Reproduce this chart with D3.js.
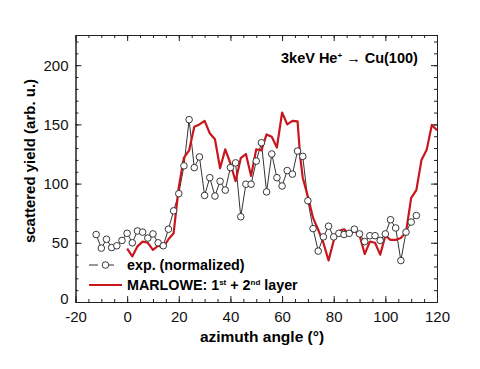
<!DOCTYPE html>
<html>
<head>
<meta charset="utf-8">
<script src="https://cdn.jsdelivr.net/npm/d3@7"></script>
<style>
  body { margin: 0; background: #fff; }
  text { font-family: "Liberation Sans", Arial, sans-serif; }
</style>
</head>
<body>
<div id="container"></div>
<script>
/* data */
var expAngle = [-12, -10, -8, -6, -4, -2, 0, 2, 4, 6, 8, 10, 12, 14, 16, 18, 20, 22, 24, 26,
                28, 30, 32, 34, 36, 38, 40, 42, 44, 46, 48, 50, 52, 54, 56, 58, 60, 62, 64, 66,
                68, 70, 72, 74, 76, 78, 80, 82, 84, 86, 88, 90, 92, 94, 96, 98, 100, 102, 104, 106,
                108, 110, 112]
var expYield = [57, 45.5, 53, 46, 47.5, 52, 58, 50, 60, 59, 54, 57.5, 50, 47.5, 61.5, 77, 91.5, 115, 154, 113.5,
                122.5, 90, 105, 89.5, 102, 94.5, 113.5, 117.5, 72, 99.5, 99.5, 119, 134.5, 93, 125, 105, 98, 111, 108, 127.5,
                123, 85.5, 62, 43, 55, 64, 55, 58, 57, 58, 61.5, 57.5, 51, 56, 56, 52, 57.5, 69.5, 62.5, 35,
                59, 67.5, 73]

var simAngle = [0, 2, 4, 6, 8, 10, 12, 14, 16, 18, 19, 20, 22, 24, 26, 28, 30, 32, 34, 36,
                38, 40, 42, 44, 46, 48, 50, 52, 54, 56, 58, 60, 62, 64, 66, 67, 68, 70, 72, 74,
                76, 78, 80, 82, 84, 86, 88, 90, 92, 94, 96, 98, 100, 102, 104, 106, 108, 110, 112, 114,
                116, 118, 120]
var simYield = [45, 38.5, 47, 51, 50, 44, 47.5, 46, 53, 58, 78, 97, 122, 128, 148, 150, 153, 142.5, 137.5, 113,
                129, 117, 102, 121.5, 125, 106.5, 129, 128, 141.5, 139.5, 130.5, 160, 150, 153, 152.5, 123, 105, 89, 71, 61,
                50, 35, 52, 60, 61.5, 57, 60, 56.5, 40.5, 51, 50, 40, 56, 52.5, 52.5, 54, 59, 88, 94.5, 120,
                128.5, 149.5, 145]

var xMajor = [-20, 0, 20, 40, 60, 80, 100, 120]
var yMajor = [0, 50, 100, 150, 200]

/* setup the dimensions */
var margin = { top: 35, right: 43, bottom: 67, left: 75.5 },
    width = 480 - margin.left - margin.right,
    height = 369 - margin.top - margin.bottom

var x = d3.scaleLinear().domain([-20, 120]).range([0, width])
var y = d3.scaleLinear().domain([0, 225.5]).range([height, 0])

var svg = d3.select("#container")
            .append("svg")
            .attr("width", 480)
            .attr("height", 369)

var g = svg.append("g")
           .attr("transform", "translate(" + margin.left + "," + margin.top + ")")

/* axes, ticks pointing inward on all four sides */
function minorTicks(axis, vals) {
  return axis.tickValues(vals).tickSize(-3).tickSizeOuter(0).tickFormat("")
}
var xMinor = d3.range(-20, 121, 5), yMinor = d3.range(0, 221, 10)
var plain = function(d) { return String(d) }  // keep the ascii hyphen in "-20"

g.append("g").attr("transform", "translate(0," + height + ")")
  .call(minorTicks(d3.axisBottom(x), xMinor))
g.append("g")
  .call(minorTicks(d3.axisTop(x), xMinor))
g.append("g")
  .call(minorTicks(d3.axisLeft(y), yMinor))
g.append("g").attr("transform", "translate(" + width + ",0)")
  .call(minorTicks(d3.axisRight(y), yMinor))

g.append("g").attr("class", "axis").attr("transform", "translate(0," + height + ")")
  .call(d3.axisBottom(x).tickValues(xMajor).tickSize(-6).tickSizeOuter(0).tickPadding(9).tickFormat(plain))
g.append("g").attr("class", "axis")
  .call(d3.axisTop(x).tickValues(xMajor).tickSize(-6).tickSizeOuter(0).tickFormat(""))
var yAxis = g.append("g").attr("class", "axis")
  .call(d3.axisLeft(y).tickValues(yMajor).tickSize(-6).tickSizeOuter(0).tickPadding(7).tickFormat(plain))
g.append("g").attr("class", "axis").attr("transform", "translate(" + width + ",0)")
  .call(d3.axisRight(y).tickValues(yMajor).tickSize(-6).tickSizeOuter(0).tickFormat(""))

g.selectAll(".axis text")
  .style("font-size", "15px")
  .style("fill", "#111")
// the "0" on the y axis sits a little above the corner
yAxis.selectAll(".tick text").filter(function(d) { return d === 0 }).attr("y", -3)
g.selectAll(".domain, .tick line").attr("stroke", "#222")

/* series */
var exp = expAngle.map(function(a, i) { return [a, expYield[i]] })
var sim = simAngle.map(function(a, i) { return [a, simYield[i]] })

var line = d3.line()
             .x(function(d) { return x(d[0]) })
             .y(function(d) { return y(d[1]) })

g.append("path")
  .datum(exp)
  .attr("d", line)
  .attr("fill", "none")
  .attr("stroke", "#333")
  .attr("stroke-width", 1)

g.append("path")
  .datum(sim)
  .attr("d", line)
  .attr("fill", "none")
  .attr("stroke", "#c8161e")
  .attr("stroke-width", 2.2)
  .attr("stroke-linejoin", "round")

g.selectAll(".pt")
  .data(exp)
  .enter().append("circle")
    .attr("class", "pt")
    .attr("cx", function(d) { return x(d[0]) })
    .attr("cy", function(d) { return y(d[1]) })
    .attr("r", 3.3)
    .attr("fill", "#fff")
    .attr("stroke", "#222")
    .attr("stroke-width", 0.9)

/* axis titles */
svg.append("text")
  .attr("x", 262).attr("y", 342)
  .attr("text-anchor", "middle")
  .style("font-size", "15.5px").style("font-weight", "bold")
  .text("azimuth angle (°)")

svg.append("text")
  .attr("transform", "translate(35,161) rotate(-90)")
  .attr("text-anchor", "middle")
  .style("font-size", "15px").style("font-weight", "bold")
  .text("scattered yield (arb. u.)")

/* annotation */
var ann = svg.append("text")
  .attr("x", 281).attr("y", 63)
  .style("font-size", "14.5px").style("font-weight", "bold")
ann.append("tspan").text("3keV He")
ann.append("tspan").attr("dy", -5).style("font-size", "8px").text("+")
ann.append("tspan").attr("dy", 5).style("font-weight", "normal").text(" \u2192  ")
ann.append("tspan").text("Cu(100)")

/* legend */
var leg = svg.append("g")
leg.append("line").attr("x1", 89).attr("x2", 122).attr("y1", 265).attr("y2", 265)
   .attr("stroke", "#333").attr("stroke-width", 1).attr("stroke-dasharray", "9,7,9")
leg.append("circle").attr("cx", 105.5).attr("cy", 265).attr("r", 3.3)
   .attr("fill", "#fff").attr("stroke", "#222").attr("stroke-width", 0.9)
leg.append("text").attr("x", 127).attr("y", 270)
   .style("font-size", "14.3px").style("font-weight", "bold")
   .text("exp. (normalized)")

leg.append("line").attr("x1", 89).attr("x2", 122).attr("y1", 285).attr("y2", 285)
   .attr("stroke", "#c8161e").attr("stroke-width", 2.2)
var t2 = leg.append("text").attr("x", 127).attr("y", 290)
   .style("font-size", "14.3px").style("font-weight", "bold")
t2.append("tspan").text("MARLOWE: 1")
t2.append("tspan").attr("dy", -5).style("font-size", "8px").text("st")
t2.append("tspan").attr("dy", 5).text(" + 2")
t2.append("tspan").attr("dy", -5).style("font-size", "8px").text("nd")
t2.append("tspan").attr("dy", 5).text(" layer")
</script>
</body>
</html>
